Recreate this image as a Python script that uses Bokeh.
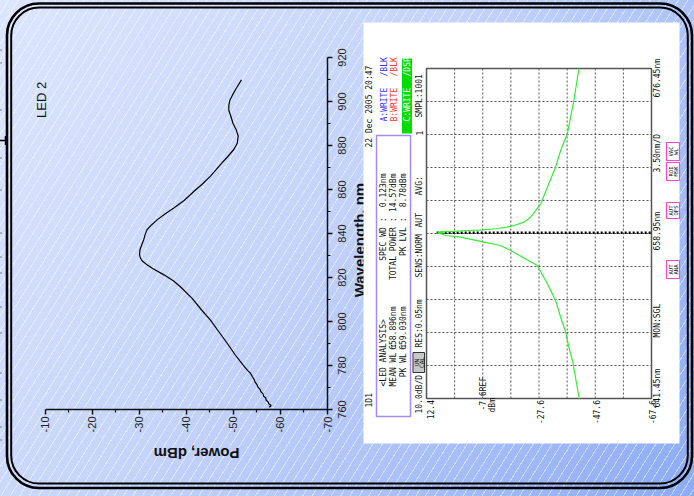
from math import pi
from urllib.parse import quote

from bokeh.plotting import figure
from bokeh.models import Range1d, FixedTicker
from bokeh.core.properties import value
from bokeh.embed import file_html
from bokeh.resources import INLINE

# ---------------- LED 2 spectrum (left chart, drawn rotated) ----------------
wavelength_nm = [761.0, 761.8, 762.6, 763.4, 764.3, 765.2, 766.0, 767.1, 768.2, 769.0,
                 770.2, 771.3, 772.4, 773.6, 775.0, 776.5, 777.8, 779.3, 782.0, 785.0,
                 790.0, 795.0, 800.6, 805.0, 810.5, 815.8, 818.5, 821.2, 824.0, 825.8,
                 827.5, 828.8, 830.5, 832.6, 835.0, 837.2, 839.5, 841.7, 844.0, 846.3,
                 849.0, 851.6, 855.0, 859.2, 862.5, 866.1, 869.0, 872.2, 875.0, 878.3,
                 881.0, 884.3, 887.0, 890.0, 893.5, 896.0, 898.0, 900.5, 903.0, 906.0, 909.8]
power_dbm = [-57.6, -58.0, -57.5, -57.4, -56.9, -56.9, -56.4, -56.3, -55.8, -55.7,
             -55.2, -55.0, -54.6, -54.4, -54.0, -53.6, -53.0, -52.4, -51.4, -50.3,
             -48.7, -47.0, -45.1, -43.3, -41.2, -38.7, -37.2, -35.2, -32.9, -31.6,
             -30.6, -30.2, -30.0, -30.1, -30.5, -30.9, -31.2, -31.6, -32.6, -33.8,
             -35.5, -37.3, -39.5, -41.6, -43.4, -45.1, -46.3, -47.6, -48.8, -50.1,
             -50.8, -51.0, -50.6, -49.9, -49.4, -49.0, -49.0, -49.2, -49.8, -50.6, -51.7]
power_ticks = [-10, -20, -30, -40, -50, -60, -70]
power_minor_ticks = [-15, -25, -35, -45, -55, -65]
wavelength_ticks = [760, 780, 800, 820, 840, 860, 880, 900, 920]
wavelength_minor_ticks = [770, 790, 810, 830, 850, 870, 890, 910]
wavelength_tick_labels = ["760", "780", "800", "820", "840", "860", "880", "900", "920"]
power_axis_title = "Power, dBm"
wavelength_axis_title = "Wavelength, nm"
chart_label = "LED 2"

# ---------------- OSA screenshot (right panel) ----------------
osa_wl = [641.45, 645.5, 646.9, 648.5, 650.07, 651.85, 653.6, 655.55, 657.15, 657.68,
          658.2, 658.56, 658.74, 658.9, 659.0, 659.05, 659.1, 659.2, 659.27, 659.34,
          659.48, 659.62, 659.8, 660.15, 660.68, 662.1, 666.0, 667.75, 669.55, 673.06, 676.45]
osa_level = [-41.9, -39.5, -38.2, -37.1, -35.3, -33.5, -30.6, -27.0, -17.5, -13.9,
             -5.6, 0.3, 5.6, 7.0, 8.8, 6.5, 8.2, 1.5, -2.1, -8.0,
             -12.8, -16.3, -18.7, -22.2, -24.6, -28.2, -33.5, -35.3, -37.7, -40.0, -41.8]
osa_level_ticks = [12.4, 2.4, -7.6, -17.6, -27.6, -37.6, -47.6, -57.6, -67.6]
osa_wl_ticks = [641.45, 644.95, 648.45, 651.95, 655.45, 658.95, 662.45, 665.95, 669.45, 672.95, 676.45]
osa_level_label_vals = [12.4, -27.6, -47.6, -67.6]
osa_level_labels = ["12.4", "-27.6", "-47.6", "-67.6"]
osa_ref_level = -7.6
peak_wl = 659.030
peak_level = 8.78

# ---------------- slide background (CSS on the full-size figure) ----------------
marks = "".join(f"M0 {y}H2" for y in [50, 63, 110, 158, 190, 233, 257, 273, 307, 333, 373, 400, 427, 440])
border_svg = (
    "<svg xmlns='http://www.w3.org/2000/svg' width='694' height='496'>"
    "<rect x='7' y='3.5' width='685' height='484.5' rx='32' ry='32' fill='none' stroke='black' stroke-width='2.6'/>"
    "<rect x='11.2' y='7.6' width='676.6' height='476' rx='28' ry='28' fill='none' stroke='black' stroke-width='2'/>"
    f"<path d='{marks}' stroke='gray' stroke-width='1'/>"
    "<path d='M0 140.5H5.5M5.5 136V145' stroke='black' stroke-width='1.5' fill='none'/>"
    "</svg>"
)
background = (
    "url(\"data:image/svg+xml," + quote(border_svg) + "\") no-repeat, "
    "repeating-linear-gradient(122deg, rgba(255,255,255,0) 0px, rgba(255,255,255,0) 7px, "
    "rgba(255,255,255,0.45) 7px, rgba(255,255,255,0.45) 8px), "
    "linear-gradient(125deg, #dce6fd 0%, #c4d3fa 45%, #8dabf4 100%)"
)

# ---------------- left chart figure (full slide size) ----------------
p1 = figure(width=694, height=496, x_range=Range1d(-6.809, -70), y_range=Range1d(760, 920),
            y_axis_location="right", toolbar_location=None, output_backend="svg",
            min_border_left=30, min_border_right=367, min_border_top=57, min_border_bottom=87,
            styles={"position": "absolute", "left": "0px", "top": "0px", "background": background})
p1.background_fill_alpha = 0
p1.border_fill_alpha = 0
p1.outline_line_color = None
p1.grid.visible = False

p1.line(power_dbm, wavelength_nm, line_color="black", line_width=1.2)
p1.text(x=[-9.15], y=[892.5], text=[chart_label], angle=pi / 2, text_align="left",
        text_baseline="middle", text_font=value("Liberation Sans"), text_font_size="13px",
        text_color="#111")

xa = p1.xaxis[0]
ya = p1.yaxis[0]
xa.bounds = (-70, -10)
xa.ticker = FixedTicker(ticks=power_ticks, minor_ticks=power_minor_ticks)
ya.ticker = FixedTicker(ticks=wavelength_ticks, minor_ticks=wavelength_minor_ticks)
xa.major_label_overrides = {t: str(t) for t in power_ticks}
# wavelength tick labels are drawn centred on their ticks by the overlay figure below
ya.major_label_overrides = {t: "" for t in wavelength_ticks}
for ax in (xa, ya):
    ax.major_label_orientation = pi / 2
    ax.major_label_text_font = "Liberation Sans"
    ax.major_label_text_font_size = "11px"
    ax.major_label_text_color = "#222"
    ax.axis_line_width = 1.5
    ax.axis_line_color = "#111"
    ax.major_tick_line_width = 1.5
    ax.major_tick_line_color = "#111"
    ax.minor_tick_line_width = 1.2
    ax.minor_tick_line_color = "#111"
    ax.major_tick_out = 5
    ax.major_tick_in = 0
    ax.minor_tick_out = 3
    ax.minor_tick_in = 0
xa.major_label_standoff = 2

# ---------------- overlay figure: axis titles, wavelength labels, OSA screen ----------------
p2 = figure(width=694, height=496, x_range=Range1d(0, 694), y_range=Range1d(496, 0),
            x_axis_location=None, y_axis_location=None, toolbar_location=None, title=None,
            output_backend="svg", min_border=0,
            styles={"position": "absolute", "left": "0px", "top": "0px"})
p2.background_fill_alpha = 0
p2.border_fill_alpha = 0
p2.outline_line_color = None
p2.grid.visible = False

# wavelength tick labels, mapped with the same wavelength scale as the chart frame
wl_scale = p2.subplot(x_source=Range1d(0, 694), y_source=Range1d(760, 920),
                      x_target=Range1d(0, 694), y_target=Range1d(409, 57))
wl_scale.text(x=341, y=wavelength_ticks, text=wavelength_tick_labels, angle=pi / 2,
              text_align="center", text_baseline="middle", text_font=value("Liberation Sans"),
              text_font_size="11px", text_color="#222")
wl_scale.text(x=[358.5], y=[837], text=[wavelength_axis_title], angle=pi / 2, text_align="center",
              text_baseline="alphabetic", text_font=value("Liberation Sans"), text_font_style="bold",
              text_font_size="15px", text_color="#111")
p2.text(x=[196], y=[453], text=[power_axis_title], angle=pi, text_align="center",
        text_baseline="middle", text_font=value("Liberation Sans"), text_font_style="bold",
        text_font_size="15px", text_color="#111")

# the white OSA screen
p2.quad(left=[363], right=[679], top=[22], bottom=[443], fill_color="white", line_color=None)

osa = p2.subplot(x_source=Range1d(12.4, -67.6), y_source=Range1d(641.45, 676.45),
                 x_target=Range1d(426, 651), y_target=Range1d(398, 68))
osa.segment(x0=osa_level_ticks[1:-1], y0=osa_wl_ticks[0], x1=osa_level_ticks[1:-1], y1=osa_wl_ticks[-1],
            line_color="#555", line_width=1, line_dash="2 2")
osa.segment(x0=osa_level_ticks[0], y0=osa_wl_ticks[1:-1], x1=osa_level_ticks[-1], y1=osa_wl_ticks[1:-1],
            line_color="#555", line_width=1, line_dash="2 2")
osa.quad(left=osa_level_ticks[0], right=osa_level_ticks[-1], bottom=osa_wl_ticks[0], top=osa_wl_ticks[-1],
         fill_color=None, line_color="#555", line_width=1.5)
osa.line([peak_level, osa_level_ticks[-1]], [peak_wl, peak_wl], line_color="black",
         line_width=2.5, line_dash="2 2")
osa.line(osa_level, osa_wl, line_color="#33ee33", line_width=1.2)

OSA_FONT = value("DejaVu Sans Mono")
osa.text(x=osa_level_label_vals, y=osa_wl_ticks[0], text=osa_level_labels, angle=pi / 2,
         text_align="right", text_baseline="middle", y_offset=1.5, x_offset=[4, 1, 1, 1],
         text_font=OSA_FONT, text_font_size="8px", text_color="#111")
osa.text(x=[osa_ref_level], y=osa_wl_ticks[0], text=["-7.6REF"], angle=pi / 2,
         text_align="left", text_baseline="middle", y_offset=12, x_offset=1,
         text_font=OSA_FONT, text_font_size="8px", text_color="#111")
osa.text(x=[osa_ref_level], y=osa_wl_ticks[0], text=["dBm"], angle=pi / 2,
         text_align="left", text_baseline="middle", y_offset=14, x_offset=10,
         text_font=OSA_FONT, text_font_size="8px", text_color="#111")

# panel decorations
p2.quad(left=[376], right=[410], top=[135], bottom=[416], fill_color=None,
        line_color="#a58cf5", line_width=1.5)
p2.quad(left=[401.5], right=[411.5], top=[58], bottom=[133], fill_color="#00dd00", line_color=None)
p2.quad(left=[412.5], right=[424], top=[352], bottom=[372], fill_color="#c8c8c8",
        line_color="#333", line_width=1)
p2.quad(left=[666, 666, 666, 666], right=[679, 679, 679, 679], top=[142, 162, 202, 260],
        bottom=[160, 180, 218, 278], fill_color="white", line_color="#ff44cc", line_width=1.2)


def osa_text(xs, ys, texts, align, color="#111", size="8px"):
    p2.text(x=xs, y=ys, text=texts, angle=pi / 2, text_align=align, text_baseline="middle",
            text_color=color, text_font=OSA_FONT, text_font_size=size)


osa_text([369, 369, 383, 393, 419, 419, 419, 419, 419, 419, 419, 657, 657, 657, 657, 657],
         [147, 407, 386, 386, 117, 135, 195, 227, 277, 347, 413, 97, 172, 250, 337, 407],
         ["22 Dec 2005 20:47", "1D1", "<LED ANALYSIS>", "MEAN WL :", "SMPL:1001", "1", "AVG:",
          "AUT", "SENS:NORM", "RES:0.05nm", "10.0dB/D", "676.45nm", "3.50nm/D", "658.95nm",
          "MON:SGL", "641.45nm"], "left")
osa_text([403, 393, 403, 383, 393, 403, 383, 393, 403],
         [343, 306, 306, 217, 217, 217, 173, 173, 173],
         ["PK WL :", "658.896nm", "659.030nm", "SPEC WD :", "TOTAL POWER :", "PK LVL :",
          "0.123nm", "14.57dBm", "8.78dBm"], "right")
osa_text([384, 384], [121, 76], ["A:WRITE", "/BLK"], "left", color="#3030ff")
osa_text([394, 394], [121, 76], ["B:WRITE", "/BLK"], "left", color="#ff3030")
osa_text([407, 407], [121, 76], ["C:WRITE", "/DSP"], "left", color="white")
osa_text([415.5, 421], [362, 362], ["UN", "CAL"], "center", size="6px")
osa_text([670, 675.5, 670, 675.5, 670, 675.5, 670, 675.5],
         [151, 151, 171, 171, 210, 210, 269, 269],
         ["VAC", "WL", "ROI", "MSK", "AUT", "OFS", "AUT", "ANA"], "center", size="5.5px")

open("out.html", "w").write(file_html([p1, p2], INLINE))
